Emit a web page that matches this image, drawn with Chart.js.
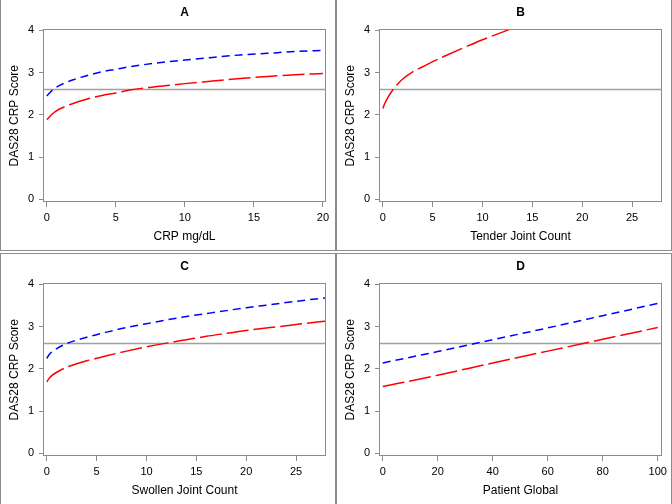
<!DOCTYPE html>
<html>
<head>
<meta charset="utf-8">
<title>DAS28 CRP Score</title>
<script src="https://cdn.jsdelivr.net/npm/chart.js@4.4.1/dist/chart.umd.min.js"></script>
<style>
  body { margin: 0; background: #fff; }
  .panel { position: absolute; box-sizing: border-box; width: 336px; height: 251px; border: 0 solid #8c8c8c; }
  .panel canvas { display: block; }
</style>
</head>
<body>
<div class="panel" style="left:0;top:0;border-width:0 1px 1px 1px"><canvas id="chartA" width="334" height="250"></canvas></div>
<div class="panel" style="left:336px;top:0;border-width:0 1px 1px 1px"><canvas id="chartB" width="334" height="250"></canvas></div>
<div class="panel" style="left:0;top:253px;border-width:1px 1px 0 1px"><canvas id="chartC" width="334" height="250"></canvas></div>
<div class="panel" style="left:336px;top:253px;border-width:1px 1px 0 1px"><canvas id="chartD" width="334" height="250"></canvas></div>

<script>
// values
var crpX    = [0, 0.5, 1, 2, 3, 4, 5, 6, 8, 10, 12, 14, 16, 18, 20];
var crpBlue = [2.45, 2.61, 2.71, 2.84, 2.94, 3.02, 3.08, 3.14, 3.23, 3.30, 3.36, 3.42, 3.46, 3.50, 3.53];
var crpRed  = [1.89, 2.05, 2.15, 2.28, 2.38, 2.46, 2.52, 2.59, 2.67, 2.74, 2.80, 2.86, 2.91, 2.95, 2.98];

var tenderX   = [0, 0.2, 0.5, 1, 1.5, 2, 3, 4, 5, 6, 8, 10, 12, 13];
var tenderRed = [2.15, 2.27, 2.41, 2.59, 2.73, 2.85, 3.02, 3.14, 3.26, 3.37, 3.58, 3.78, 3.96, 4.05];

var swollenX    = [0, 0.25, 0.5, 1, 2, 3, 4, 5, 6, 8, 10, 12, 14, 16, 18, 20, 22, 24, 26, 28];
var swollenBlue = [2.25, 2.34, 2.40, 2.48, 2.60, 2.68, 2.75, 2.81, 2.87, 2.98, 3.07, 3.16, 3.24, 3.31, 3.38, 3.45, 3.51, 3.57, 3.63, 3.68];
var swollenRed  = [1.69, 1.78, 1.84, 1.92, 2.04, 2.12, 2.19, 2.25, 2.31, 2.42, 2.52, 2.61, 2.69, 2.77, 2.84, 2.91, 2.97, 3.02, 3.08, 3.13];

var globalX    = [0, 20, 40, 60, 80, 100];
var globalBlue = [2.14, 2.41, 2.69, 2.97, 3.26, 3.55];
var globalRed  = [1.58, 1.85, 2.14, 2.42, 2.70, 2.98];

var refValue = 2.6;

var yTicks      = [0, 1, 2, 3, 4];
var crpTicks    = [0, 5, 10, 15, 20];
var jointTicks  = [0, 5, 10, 15, 20, 25];
var globalTicks = [0, 20, 40, 60, 80, 100];

var yTitle = 'DAS28 CRP Score';

var axisGray = '#8c8c8c';
var fontFamily = '"Liberation Sans", Arial, sans-serif';

function toPoints(xs, ys) {
  return xs.map(function(x, i) { return {x: x, y: ys[i]}; });
}

var framePlugin = {
  id: 'frame',
  afterDatasetsDraw: function(chart) {
    var a = chart.chartArea, ctx = chart.ctx;
    ctx.save();
    ctx.strokeStyle = axisGray;
    ctx.lineWidth = 1;
    ctx.strokeRect(Math.round(a.left) - 0.5, Math.round(a.top) + 0.5,
                   Math.round(a.right - a.left) + 1, Math.round(a.bottom - a.top) - 1);
    ctx.restore();
  }
};

function curve(points, color, dash) {
  return {
    data: points,
    borderColor: color,
    borderWidth: 1.5,
    borderDash: dash,
    pointRadius: 0,
    cubicInterpolationMode: 'monotone',
    fill: false
  };
}

function makeChart(id, title, xTitle, xMin, xMax, xTicks, curves) {
  var datasets = curves.slice();
  datasets.push({
    data: [{x: xMin, y: refValue}, {x: xMax, y: refValue}],
    borderColor: '#a0a0a0',
    borderWidth: 1.5,
    pointRadius: 0
  });

  return new Chart(document.getElementById(id), {
    type: 'line',
    data: { datasets: datasets },
    plugins: [framePlugin],
    options: {
      responsive: false,
      animation: false,
      layout: { padding: { top: 0, right: 10, bottom: 0, left: 0 } },
      plugins: {
        legend: { display: false },
        tooltip: { enabled: false },
        title: {
          display: true,
          text: title,
          fullSize: false,
          color: '#000',
          font: { family: fontFamily, size: 12, weight: 'bold' },
          padding: { top: 5, bottom: 10 }
        }
      },
      scales: {
        x: {
          type: 'linear',
          min: xMin,
          max: xMax,
          afterBuildTicks: function(axis) { axis.ticks = xTicks.map(function(v) { return {value: v}; }); },
          afterFit: function(axis) { axis.height = 48; },
          grid: { drawOnChartArea: false, drawTicks: true, tickLength: 5, color: axisGray },
          border: { display: false },
          ticks: { color: '#000', padding: 4, maxRotation: 0, font: { family: fontFamily, size: 11 } },
          title: { display: true, text: xTitle, color: '#000', padding: { top: 0, bottom: 6 },
                   font: { family: fontFamily, size: 12 } }
        },
        y: {
          type: 'linear',
          min: -0.065,
          max: 4.025,
          afterBuildTicks: function(axis) { axis.ticks = yTicks.map(function(v) { return {value: v}; }); },
          afterFit: function(axis) { axis.width = 43; },
          grid: { drawOnChartArea: false, drawTicks: true, tickLength: 5, color: axisGray },
          border: { display: false },
          ticks: { color: '#000', padding: 5, font: { family: fontFamily, size: 11 } },
          title: { display: true, text: yTitle, color: '#000', padding: { top: 6, bottom: 0 },
                   font: { family: fontFamily, size: 12 } }
        }
      }
    }
  });
}

var blue = '#0000ff', red = '#ff0000';
var blueDash = [8, 5], redDash = [22, 5];

makeChart('chartA', 'A', 'CRP mg/dL', -0.2, 20.15, crpTicks, [
  curve(toPoints(crpX, crpBlue), blue, blueDash),
  curve(toPoints(crpX, crpRed), red, redDash)
]);

makeChart('chartB', 'B', 'Tender Joint Count', -0.28, 27.9, jointTicks, [
  curve(toPoints(tenderX, tenderRed), red, redDash)
]);

makeChart('chartC', 'C', 'Swollen Joint Count', -0.28, 27.9, jointTicks, [
  curve(toPoints(swollenX, swollenBlue), blue, blueDash),
  curve(toPoints(swollenX, swollenRed), red, redDash)
]);

makeChart('chartD', 'D', 'Patient Global', -1, 101.2, globalTicks, [
  curve(toPoints(globalX, globalBlue), blue, blueDash),
  curve(toPoints(globalX, globalRed), red, redDash)
]);
</script>
</body>
</html>
